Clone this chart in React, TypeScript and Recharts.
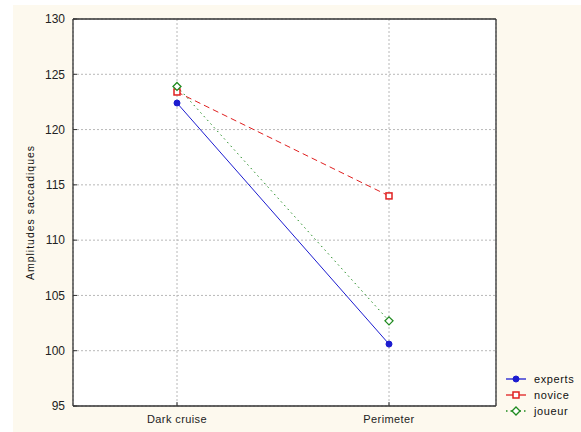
import { LineChart, Line, XAxis, YAxis, CartesianGrid } from "recharts";

const categories = ["Dark cruise", "Perimeter"];
const experts = [122.4, 100.6];
const novice = [123.4, 114.0];
const joueur = [123.9, 102.7];
const yTicks = [95, 100, 105, 110, 115, 120, 125, 130];

const data = categories.map((c, i) => ({
  name: c,
  experts: experts[i],
  novice: novice[i],
  joueur: joueur[i],
}));

const FONT = "'Liberation Sans', Arial, sans-serif";

const SERIES = [
  { key: "experts", color: "#1c1cd0", dash: undefined as string | undefined, legendDash: undefined as string | undefined, shape: "circle" },
  { key: "novice", color: "#e02020", dash: "6 4", legendDash: undefined, shape: "square" },
  { key: "joueur", color: "#1f8a1f", dash: "1.5 3.5", legendDash: "1.5 3", shape: "diamond" },
];

function Marker({ cx, cy, shape, color }: { cx: number; cy: number; shape: string; color: string }) {
  if (cx == null || cy == null) return null;
  if (shape === "circle")
    return <circle cx={cx} cy={cy} r={3} fill={color} stroke={color} strokeWidth={1} />;
  if (shape === "square")
    return <rect x={cx - 3} y={cy - 3} width={6} height={6} fill="#fff" stroke={color} strokeWidth={1.5} />;
  return (
    <path
      d={`M${cx},${cy - 4}L${cx + 4},${cy}L${cx},${cy + 4}L${cx - 4},${cy}Z`}
      fill="#fff"
      stroke={color}
      strokeWidth={1.3}
    />
  );
}

function LegendBox() {
  return (
    <div style={{ fontFamily: FONT, fontSize: 11, color: "#111" }}>
      {SERIES.map((s) => (
        <div key={s.key} style={{ display: "flex", alignItems: "center", height: 16 }}>
          <svg width={24} height={10} style={{ marginRight: 5 }}>
            <line x1={1} y1={5} x2={21} y2={5} stroke={s.color} strokeWidth={1.3} strokeDasharray={s.legendDash} />
            <Marker cx={11} cy={5} shape={s.shape} color={s.color} />
          </svg>
          <span style={{ letterSpacing: 0.6 }}>{s.key}</span>
        </div>
      ))}
    </div>
  );
}

export default function App() {
  return (
    <div style={{ position: "absolute", left: 0, top: 0, width: 581, height: 432, background: "#fff" }}>
      <div style={{ position: "absolute", left: 13, top: 5, width: 568, height: 427, background: "#fdf9ee" }} />
      <div style={{ position: "absolute", left: 0, top: 0 }}>
        <LineChart width={581} height={432} data={data} margin={{ top: 18, right: 84, bottom: 0, left: 13 }}>
          <CartesianGrid yAxisId="left" stroke="#b8b8b8" strokeDasharray="2 2" fill="#fff" />
          <XAxis
            dataKey="name"
            padding={{ left: 104, right: 107 }}
            tickSize={-4}
            tickMargin={13}
            tick={{ fill: "#222", fontSize: 11, fontFamily: FONT, letterSpacing: 0.4 }}
            axisLine={{ stroke: "#333", strokeWidth: 1.3 }}
            tickLine={{ stroke: "#333" }}
            height={26}
          />
          <XAxis xAxisId="top" orientation="top" dataKey="name" height={1} tick={false} tickLine={false} axisLine={{ stroke: "#333", strokeWidth: 1.3 }} />
          <YAxis
            yAxisId="left"
            width={60}
            domain={[95, 130]}
            ticks={yTicks}
            interval={0}
            tickSize={-4}
            tickMargin={12}
            tick={{ fill: "#222", fontSize: 12, fontFamily: FONT }}
            axisLine={{ stroke: "#333", strokeWidth: 1.3 }}
            tickLine={{ stroke: "#333" }}
            label={{
              value: "Amplitudes saccadiques",
              angle: -90,
              position: "insideLeft",
              offset: 17,
              style: { textAnchor: "middle", fontSize: 10.5, letterSpacing: 1, fontFamily: FONT, fill: "#111" },
            }}
          />
          <YAxis yAxisId="right" orientation="right" width={1} domain={[95, 130]} tick={false} tickLine={false} axisLine={{ stroke: "#333", strokeWidth: 1.3 }} />
          {SERIES.map((s) => (
            <Line
              key={s.key}
              yAxisId="left"
              dataKey={s.key}
              type="linear"
              stroke={s.color}
              strokeWidth={1}
              strokeDasharray={s.dash}
              isAnimationActive={false}
              dot={(p: any) => <Marker key={`${s.key}-${p.index}`} cx={p.cx} cy={p.cy} shape={s.shape} color={s.color} />}
            />
          ))}
        </LineChart>
      </div>
      <div style={{ position: "absolute", left: 505, top: 371 }}>
        <LegendBox />
      </div>
    </div>
  );
}
